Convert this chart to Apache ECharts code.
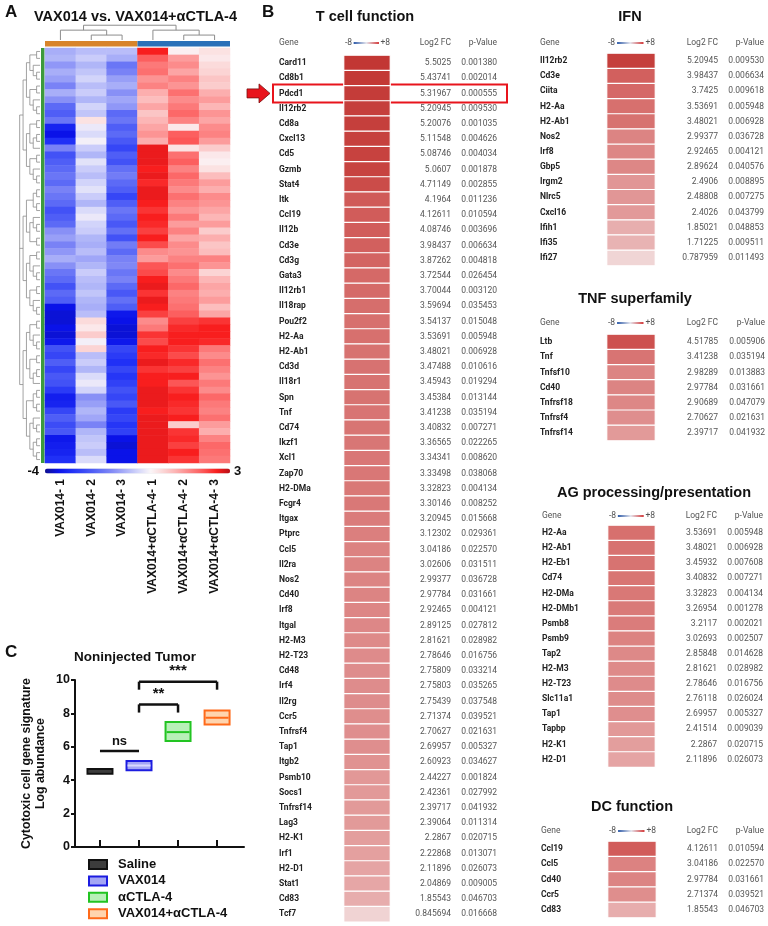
<!DOCTYPE html>
<html><head><meta charset="utf-8">
<script src="https://cdn.jsdelivr.net/npm/echarts@6/dist/echarts.min.js"></script>
<style>html,body{margin:0;padding:0;background:#fff}#c{width:768px;height:926px}</style>
</head><body><div id="c"></div>
<script>
// ================= DATA =================
// Panel A heatmap (z-scores), one array per sample column, rows top->bottom
const hmColumns = ['VAX014- 1','VAX014- 2','VAX014- 3','VAX014+αCTLA-4- 1','VAX014+αCTLA-4- 2','VAX014+αCTLA-4- 3'];
const hmVax1 = [-1.0,-0.9,-1.3,-1.0,-1.2,-1.6,-1.0,-1.4,-2.0,-2.2,-1.8,-3.2,-3.5,-3.0,-1.6,-2.4,-2.2,-2.0,-1.8,-2.0,-1.6,-1.8,-2.0,-2.4,-2.2,-2.0,-1.4,-1.2,-1.6,-1.3,-1.0,-1.4,-1.8,-2.0,-2.4,-2.0,-2.2,-3.5,-3.6,-3.6,-3.5,-3.6,-3.4,-2.4,-2.6,-2.2,-2.6,-2.3,-2.4,-2.8,-3.3,-3.2,-2.6,-2.2,-2.5,-2.3,-3.4,-3.3,-3.2,-3.0];
const hmVax2 = [-0.8,-0.6,-0.9,-0.7,-0.5,-0.8,-0.6,-0.9,-0.5,-0.7,0.3,-0.2,-0.4,-0.1,-0.6,-0.9,-0.3,-0.6,-0.8,-0.5,-0.3,-0.6,-0.9,-0.4,-0.2,-0.5,-0.6,-0.9,-1.0,-0.8,-1.1,-0.9,-0.6,-0.8,-0.9,-0.7,-0.9,-1.0,-0.8,0.4,0.2,0.6,-0.1,0.5,-0.8,-0.6,-0.9,-0.4,-0.2,-0.5,-1.4,-1.2,-0.9,-1.1,-1.6,-0.9,-0.7,-0.6,-0.8,-0.4];
const hmVax3 = [-0.8,-1.0,-1.8,-1.6,-1.2,-1.0,-1.4,-1.1,-1.3,-2.0,-1.8,-2.2,-2.0,-2.3,-2.6,-2.2,-2.4,-1.9,-1.7,-2.0,-2.2,-2.6,-2.2,-1.8,-2.0,-2.3,-1.9,-2.4,-1.7,-2.0,-1.6,-1.5,-1.8,-1.6,-2.0,-2.3,-1.9,-2.2,-3.4,-3.5,-3.6,-3.6,-3.4,-2.6,-2.8,-3.0,-2.6,-2.9,-2.7,-2.4,-2.6,-2.3,-2.8,-2.6,-2.9,-2.7,-3.5,-3.6,-3.5,-3.5];
const hmCombo1 = [2.5,1.9,1.6,1.7,1.3,1.5,1.0,0.8,1.1,0.7,0.9,1.1,1.3,1.0,2.6,2.6,2.6,2.5,2.6,2.4,2.6,2.6,2.5,2.3,2.5,2.4,2.2,2.5,2.1,1.4,1.2,2.0,2.1,2.5,2.6,2.3,2.6,2.5,2.2,1.4,1.6,2.3,2.1,2.5,2.4,2.6,2.3,2.5,2.5,2.6,2.6,2.6,2.5,2.6,2.6,2.6,2.6,2.6,2.6,2.6];
const hmCombo2 = [0.1,1.2,1.4,1.1,1.5,1.3,1.7,1.4,1.6,1.8,1.5,0.2,1.9,2.0,0.3,1.7,1.9,1.5,1.8,1.6,1.4,1.7,1.5,1.3,1.6,1.2,1.5,1.1,1.4,1.3,1.5,1.7,1.4,1.6,1.8,1.5,1.6,1.7,1.9,2.2,2.4,2.5,2.5,2.3,2.1,2.4,2.2,2.5,2.0,2.3,2.5,2.4,2.3,2.5,0.6,2.3,2.4,2.2,2.5,2.3];
const hmCombo3 = [0.3,0.2,0.4,0.5,0.7,0.6,1.0,1.2,0.9,1.3,1.1,1.4,1.5,1.2,0.6,0.2,0.1,0.3,0.8,1.2,1.0,1.4,1.3,1.1,0.9,1.2,0.6,1.0,0.7,0.8,1.5,1.3,0.5,0.9,1.1,1.0,1.2,0.8,1.1,2.3,2.5,2.5,2.4,1.6,1.4,1.7,1.5,1.3,1.6,1.4,1.8,1.6,1.5,1.7,1.2,1.0,1.5,1.8,1.7,1.6];
const hmScaleTicks = ['-4', '3'];
// dendrogram structures (leaf = row/column index)
const colTree = [[0,[1,2]],[3,[4,5]]];
const rowTree = [
 [[[[0,1],[2,[3,4]]],[[5,6],[7,[8,9]]]],
  [[[10,11],[[12,13],14]],[[15,16],[17,[18,19]]]]],
 [[[[20,21],[22,23]],[[24,[25,26]],[27,28]]],
  [[[29,30],[31,[32,33]]],[[34,35],[36,[37,38]]]]],
 [[[[39,40],[41,[42,43]]],[[44,45],[[46,47],48]]],
  [[[49,50],[51,52]],[[53,[54,55]],[[56,57],[58,59]]]]]
];

// Panel B tables
const tcGenes = ['Card11','Cd8b1','Pdcd1','Il12rb2','Cd8a','Cxcl13','Cd5','Gzmb','Stat4','Itk','Ccl19','Il12b','Cd3e','Cd3g','Gata3','Il12rb1','Il18rap','Pou2f2','H2-Aa','H2-Ab1','Cd3d','Il18r1','Spn','Tnf','Cd74','Ikzf1','Xcl1','Zap70','H2-DMa','Fcgr4','Itgax','Ptprc','Ccl5','Il2ra','Nos2','Cd40','Irf8','Itgal','H2-M3','H2-T23','Cd48','Irf4','Il2rg','Ccr5','Tnfrsf4','Tap1','Itgb2','Psmb10','Socs1','Tnfrsf14','Lag3','H2-K1','Irf1','H2-D1','Stat1','Cd83','Tcf7'];
const tcFc = [5.5025,5.43741,5.31967,5.20945,5.20076,5.11548,5.08746,5.0607,4.71149,4.1964,4.12611,4.08746,3.98437,3.87262,3.72544,3.70044,3.59694,3.54137,3.53691,3.48021,3.47488,3.45943,3.45384,3.41238,3.40832,3.36565,3.34341,3.33498,3.32823,3.30146,3.20945,3.12302,3.04186,3.02606,2.99377,2.97784,2.92465,2.89125,2.81621,2.78646,2.75809,2.75803,2.75439,2.71374,2.70627,2.69957,2.60923,2.44227,2.42361,2.39717,2.39064,2.2867,2.22868,2.11896,2.04869,1.85543,0.845694];
const tcP = [0.001380,0.002014,0.000555,0.009530,0.001035,0.004626,0.004034,0.001878,0.002855,0.011236,0.010594,0.003696,0.006634,0.004818,0.026454,0.003120,0.035453,0.015048,0.005948,0.006928,0.010616,0.019294,0.013144,0.035194,0.007271,0.022265,0.008620,0.038068,0.004134,0.008252,0.015668,0.029361,0.022570,0.031511,0.036728,0.031661,0.004121,0.027812,0.028982,0.016756,0.033214,0.035265,0.037548,0.039521,0.021631,0.005327,0.034627,0.001824,0.027992,0.041932,0.011314,0.020715,0.013071,0.026073,0.009005,0.046703,0.016668];

const ifnGenes = ['Il12rb2','Cd3e','Ciita','H2-Aa','H2-Ab1','Nos2','Irf8','Gbp5','Irgm2','Nlrc5','Cxcl16','Ifih1','Ifi35','Ifi27'];
const ifnFc = [5.20945,3.98437,3.7425,3.53691,3.48021,2.99377,2.92465,2.89624,2.4906,2.48808,2.4026,1.85021,1.71225,0.787959];
const ifnP = [0.009530,0.006634,0.009618,0.005948,0.006928,0.036728,0.004121,0.040576,0.008895,0.007275,0.043799,0.048853,0.009511,0.011493];

const tnfGenes = ['Ltb','Tnf','Tnfsf10','Cd40','Tnfrsf18','Tnfrsf4','Tnfrsf14'];
const tnfFc = [4.51785,3.41238,2.98289,2.97784,2.90689,2.70627,2.39717];
const tnfP = [0.005906,0.035194,0.013883,0.031661,0.047079,0.021631,0.041932];

const agGenes = ['H2-Aa','H2-Ab1','H2-Eb1','Cd74','H2-DMa','H2-DMb1','Psmb8','Psmb9','Tap2','H2-M3','H2-T23','Slc11a1','Tap1','Tapbp','H2-K1','H2-D1'];
const agFc = [3.53691,3.48021,3.45932,3.40832,3.32823,3.26954,3.2117,3.02693,2.85848,2.81621,2.78646,2.76118,2.69957,2.41514,2.2867,2.11896];
const agP = [0.005948,0.006928,0.007608,0.007271,0.004134,0.001278,0.002021,0.002507,0.014628,0.028982,0.016756,0.026024,0.005327,0.009039,0.020715,0.026073];

const dcGenes = ['Ccl19','Ccl5','Cd40','Ccr5','Cd83'];
const dcFc = [4.12611,3.04186,2.97784,2.71374,1.85543];
const dcP = [0.010594,0.022570,0.031661,0.039521,0.046703];

const tableTitles = ['T cell function','IFN','TNF superfamily','AG processing/presentation','DC function'];
const tableHeaders = ['Gene','Log2 FC','p-Value'];
const fcScaleTicks = ['-8','+8'];
const highlightGene = 'Pdcd1';

// Panel C
const cGroups = ['Saline','VAX014','αCTLA-4','VAX014+αCTLA-4'];
const cLow  = [4.38, 4.60, 6.35, 7.34];
const cHigh = [4.67, 5.15, 7.48, 8.18];
const cMean = [4.52, 4.88, 6.88, 7.74];
const cSigLabels = ['ns','**','***'];
const cSigFrom = [1, 2, 2];
const cSigTo = [2, 3, 4];
const cSigY = [5.75, 8.54, 9.9];
const cSigDrop = [5.75, 8.05, 9.42];

// ================= LAYOUT / STYLE =================
const FT = 'Liberation Sans, Arial, sans-serif';
const FR = 'Roboto, sans-serif';
const HM = {left:45, top:48, width:185, height:415};
const TL = [
 {genes:tcGenes, fc:tcFc, p:tcP, titleX:365, titleY:17, headerY:43, top:55.4, rowH:15.2, geneX:279, cellL:344, cellR:390, fcR:451, pR:497},
 {genes:ifnGenes, fc:ifnFc, p:ifnP, titleX:630, titleY:17, headerY:43, top:53.4, rowH:15.15, geneX:540, cellL:607, cellR:655, fcR:718, pR:764},
 {genes:tnfGenes, fc:tnfFc, p:tnfP, titleX:635, titleY:299, headerY:323, top:334.5, rowH:15.15, geneX:540, cellL:607, cellR:655, fcR:718, pR:765},
 {genes:agGenes, fc:agFc, p:agP, titleX:654, titleY:493, headerY:516, top:525.5, rowH:15.1, geneX:542, cellL:608, cellR:655, fcR:717, pR:763},
 {genes:dcGenes, fc:dcFc, p:dcP, titleX:632, titleY:807, headerY:831, top:841.5, rowH:15.2, geneX:541, cellL:608, cellR:656, fcR:718, pR:764}
];
const hmColors = ['#101090','#0a12e8','#2030f6','#3c4cf6','#5c6af6','#8088f6','#a8aef8','#d2d4fa','#fbf6f8','#fbd4d4','#fcaeae','#fc8282','#fc5656','#f81e1e','#b81018'];
const fcColors = ['#153f8a','#3a64b0','#7f9dd0','#c4d2ea','#f7f3f3','#e6a8a8','#d25f5d','#bd2a26','#a01818'];
const cFill   = ['#3c3c3c','#a4a6f4','#b8f0b8','#ffd4ae'];
const cStroke = ['#111111','#1c1ce0','#22c422','#ff6a1a'];
const cMid    = ['#3c3c3c','#d8d8ff','#22c422','#ff6a1a'];

// ================= BUILD =================
function dendro(node, segs) {
  if (typeof node === 'number') return {pos: node, h: 0};
  const kids = node.map(k => dendro(k, segs));
  const h = 1 + Math.max(...kids.map(k => k.h));
  const ps = kids.map(k => k.pos);
  const lo = Math.min(...ps), hi = Math.max(...ps);
  kids.forEach(k => segs.push([k.pos, k.h, k.pos, h]));
  segs.push([lo, h, hi, h]);
  return {pos: (lo + hi) / 2, h};
}
const colSegs = []; const colRoot = dendro(colTree, colSegs);
const rowSegs = []; const rowRoot = dendro(rowTree, rowSegs);

const hmCols = [hmVax1, hmVax2, hmVax3, hmCombo1, hmCombo2, hmCombo3];
const hmData = [];
hmCols.forEach((col, c) => col.forEach((v, r) => hmData.push([c, r, v])));
const rowNames = hmVax1.map((_, i) => String(i));

function txt(x, y, text, size, weight, align, color, font, vAlign) {
  return {type:'text', x, y, silent:true,
    style:{text, fontSize:size, fontWeight:weight, fontFamily:font, fill:color,
      align, textAlign:align, verticalAlign:vAlign||'middle', textVerticalAlign:vAlign||'middle'}};
}

const grid = [
  {left:HM.left, top:HM.top, width:HM.width, height:HM.height},
  {left:HM.left, top:24, width:HM.width, height:16},
  {left:19, top:HM.top, width:21, height:HM.height},
  {left:75, top:680, width:169, height:167}
];
const xAxis = [
  {gridIndex:0, type:'category', data:hmColumns, axisLine:{show:false}, axisTick:{show:false},
   axisLabel:{rotate:90, interval:0, margin:16, fontSize:12, fontWeight:'bold', color:'#111', fontFamily:FT}},
  {gridIndex:1, type:'value', min:-0.5, max:5.5, show:false},
  {gridIndex:2, type:'value', min:0, max:rowRoot.h + 0.2, inverse:true, show:false},
  {gridIndex:3, type:'value', min:0.36, max:4.69, splitLine:{show:false},
   axisLine:{lineStyle:{color:'#111', width:2}},
   axisTick:{show:true, customValues:[1,2,3,4], inside:true, length:7, lineStyle:{width:2, color:'#111'}},
   axisLabel:{show:false}}
];
const yAxis = [
  {gridIndex:0, type:'category', data:rowNames, inverse:true, show:false},
  {gridIndex:1, type:'value', min:0, max:colRoot.h + 0.25, show:false},
  {gridIndex:2, type:'value', min:-0.5, max:rowNames.length - 0.5, inverse:true, show:false},
  {gridIndex:3, type:'value', min:0, max:10, interval:2, splitLine:{show:false},
   axisLine:{show:true, lineStyle:{color:'#111', width:2}},
   axisTick:{show:true, length:4, lineStyle:{width:2, color:'#111'}},
   axisLabel:{fontSize:12.5, fontWeight:'bold', color:'#111', fontFamily:FT, margin:5},
   name:'Cytotoxic cell gene signature\nLog abundance', nameLocation:'middle', nameGap:27,
   nameTextStyle:{fontSize:12.3, fontWeight:'bold', color:'#111', fontFamily:FT, lineHeight:14.5}}
];
const series = [
  {type:'heatmap', xAxisIndex:0, yAxisIndex:0, data:hmData, progressive:0, emphasis:{disabled:true}},
  {type:'custom', xAxisIndex:1, yAxisIndex:1, data:colSegs, silent:true,
   renderItem:(p, api) => { const a = api.coord([api.value(0), api.value(1)]), b = api.coord([api.value(2), api.value(3)]);
     return {type:'line', shape:{x1:a[0], y1:a[1], x2:b[0], y2:b[1]}, style:{stroke:'#8c8c8c', lineWidth:1}}; }},
  {type:'custom', xAxisIndex:2, yAxisIndex:2, data:rowSegs, silent:true,
   renderItem:(p, api) => { const a = api.coord([api.value(1), api.value(0)]), b = api.coord([api.value(3), api.value(2)]);
     return {type:'line', shape:{x1:a[0], y1:a[1], x2:b[0], y2:b[1]}, style:{stroke:'#8c8c8c', lineWidth:0.8}}; }}
];
cGroups.forEach((g, i) => {
  series.push({type:'custom', name:g, xAxisIndex:3, yAxisIndex:3, silent:true,
    itemStyle:{color:cFill[i], borderColor:cStroke[i], borderWidth:2},
    encode:{x:0, y:[1,2]},
    data:[[i + 1, cLow[i], cHigh[i], cMean[i]]],
    renderItem:(p, api) => {
      const x = api.value(0), hw = 0.32;
      const p1 = api.coord([x - hw, api.value(2)]), p2 = api.coord([x + hw, api.value(1)]);
      const m1 = api.coord([x - hw, api.value(3)]), m2 = api.coord([x + hw, api.value(3)]);
      return {type:'group', children:[
        {type:'rect', shape:{x:p1[0], y:p1[1], width:p2[0]-p1[0], height:p2[1]-p1[1]}, style:{fill:cFill[i], stroke:cStroke[i], lineWidth:2}},
        {type:'line', shape:{x1:m1[0]+1, y1:m1[1], x2:m2[0]-1, y2:m2[1]}, style:{stroke:cMid[i], lineWidth:2}}
      ]};
    }});
});
series.push({type:'custom', xAxisIndex:3, yAxisIndex:3, silent:true, clip:false,
  data:cSigLabels.map((_, i) => [cSigFrom[i], cSigTo[i], cSigY[i], cSigDrop[i]]),
  encode:{x:[0,1], y:[2,3]},
  renderItem:(p, api) => {
    const i = p.dataIndex;
    const a = api.coord([api.value(0), api.value(2)]), b = api.coord([api.value(1), api.value(2)]);
    const ad = api.coord([api.value(0), api.value(3)]), bd = api.coord([api.value(1), api.value(3)]);
    const ls = {stroke:'#111', lineWidth:2.5};
    return {type:'group', children:[
      {type:'line', shape:{x1:a[0], y1:a[1], x2:b[0], y2:b[1]}, style:ls},
      {type:'line', shape:{x1:ad[0], y1:ad[1], x2:a[0], y2:a[1]}, style:ls},
      {type:'line', shape:{x1:bd[0], y1:bd[1], x2:b[0], y2:b[1]}, style:ls},
      {type:'text', x:(a[0]+b[0])/2, y:a[1] - 3, style:{text:cSigLabels[i], fontSize:cSigLabels[i]==='ns'?13:15, fontWeight:'bold', fontFamily:FT, fill:'#111', align:'center', verticalAlign:'bottom'}}
    ]};
  }});

const tableSeriesIdx = [];
const graphics = [];
TL.forEach((t, k) => {
  const gi = grid.length;
  grid.push({left:t.cellL, top:t.top, width:t.cellR - t.cellL, height:t.rowH * t.genes.length});
  xAxis.push({gridIndex:gi, type:'category', data:['fc'], show:false});
  const yBase = {gridIndex:gi, type:'category', data:t.genes, inverse:true, axisLine:{show:false}, axisTick:{show:false}};
  yAxis.push(Object.assign({}, yBase, {position:'left', axisLabel:{interval:0, align:'left', margin:t.cellL - t.geneX, fontSize:8.5, fontWeight:'bold', color:'#222', fontFamily:FR}}));
  yAxis.push(Object.assign({}, yBase, {position:'right', axisLabel:{interval:0, align:'right', margin:t.fcR - t.cellR, fontSize:8.5, color:'#555', fontFamily:FR, formatter:(v, idx) => String(t.fc[idx])}}));
  yAxis.push(Object.assign({}, yBase, {position:'right', axisLabel:{interval:0, align:'right', margin:t.pR - t.cellR, fontSize:8.5, color:'#555', fontFamily:FR, formatter:(v, idx) => t.p[idx].toFixed(6)}}));
  tableSeriesIdx.push(series.length);
  series.push({type:'heatmap', xAxisIndex:gi, yAxisIndex:yAxis.length - 3, data:t.fc.map((v, i) => [0, i, v]),
    itemStyle:{borderColor:'#fff', borderWidth:1.2}, emphasis:{disabled:true}});
  graphics.push(txt(t.titleX, t.titleY, tableTitles[k], 14.5, 'bold', 'center', '#111', FT));
  graphics.push(txt(t.geneX, t.headerY, tableHeaders[0], 8.5, 'normal', 'left', '#555', FR));
  graphics.push(txt(t.fcR, t.headerY, tableHeaders[1], 8.5, 'normal', 'right', '#555', FR));
  graphics.push(txt(t.pR, t.headerY, tableHeaders[2], 8.5, 'normal', 'right', '#555', FR));
  const cw = t.cellR - t.cellL;
  graphics.push(txt(t.cellL + 1, t.headerY, fcScaleTicks[0], 8.5, 'normal', 'left', '#555', FR));
  graphics.push(txt(t.cellR, t.headerY, fcScaleTicks[1], 8.5, 'normal', 'right', '#555', FR));
  graphics.push({type:'rect', silent:true, shape:{x:t.cellL + cw*0.21, y:t.headerY - 1, width:cw*0.55, height:2},
    style:{fill:{type:'linear', x:0, y:0, x2:1, y2:0, colorStops:[{offset:0, color:'#2d5aa8'},{offset:0.5, color:'#e6e6ee'},{offset:1, color:'#d33a3a'}]}}});
  const hi = t.genes.indexOf(highlightGene);
  if (hi >= 0) {
    const cy = t.top + (hi + 0.5) * t.rowH, bx = t.geneX - 6;
    graphics.push({type:'rect', silent:true, shape:{x:bx, y:cy - 9, width:t.pR + 10 - bx, height:18}, style:{fill:'none', stroke:'#e8141c', lineWidth:2}});
    const tip = bx - 3;
    graphics.push({type:'polygon', silent:true, shape:{points:[[tip-23, cy-4.5],[tip-11, cy-4.5],[tip-11, cy-9.5],[tip, cy],[tip-11, cy+9.5],[tip-11, cy+4.5],[tip-23, cy+4.5]]},
      style:{fill:'#e8141c', stroke:'#7a1010', lineWidth:0.8}});
  }
});

// Panel decorations
const colW = HM.width / hmColumns.length;
graphics.push(
  txt(5, 12, 'A', 17, 'bold', 'left', '#111', FT),
  txt(262, 12, 'B', 17, 'bold', 'left', '#111', FT),
  txt(5, 652, 'C', 17, 'bold', 'left', '#111', FT),
  txt(HM.left + HM.width / 2 - 2, 17, 'VAX014 vs. VAX014+αCTLA-4', 14.5, 'bold', 'center', '#111', FT),
  txt(135, 657, 'Noninjected Tumor', 13.5, 'bold', 'center', '#111', FT),
  {type:'rect', silent:true, shape:{x:HM.left, y:HM.top - 7, width:colW*3, height:5.5}, style:{fill:'#d8842a'}},
  {type:'rect', silent:true, shape:{x:HM.left + colW*3, y:HM.top - 7, width:colW*3, height:5.5}, style:{fill:'#2a70b8'}},
  {type:'rect', silent:true, shape:{x:HM.left - 4, y:HM.top, width:3.5, height:HM.height}, style:{fill:'#3c9a3c'}},
  txt(HM.left - 6, HM.top + HM.height + 8, hmScaleTicks[0], 13, 'bold', 'right', '#111', FT),
  txt(HM.left + HM.width + 4, HM.top + HM.height + 8, hmScaleTicks[1], 13, 'bold', 'left', '#111', FT)
);

const option = {
  animation:false,
  backgroundColor:'#fff',
  grid, xAxis, yAxis, series,
  visualMap:[
    {type:'continuous', seriesIndex:0, min:-4, max:3, orient:'horizontal', left:HM.left, top:HM.top + HM.height + 5.5,
     itemWidth:5, itemHeight:HM.width, calculable:false, padding:0, inRange:{color:hmColors}, textStyle:{fontSize:0}},
    {type:'continuous', seriesIndex:tableSeriesIdx, min:-8, max:8, show:false, inRange:{color:fcColors}}
  ],
  legend:{orient:'vertical', left:88, top:858, height:68, padding:0, itemWidth:18, itemHeight:9, itemGap:3.4, icon:'rect',
    textStyle:{fontSize:13, fontWeight:'bold', color:'#111', fontFamily:FT, padding:[0,0,0,6]},
    data:cGroups.map((g, i) => ({name:g, itemStyle:{color:cFill[i], borderColor:cStroke[i], borderWidth:2}})),
    selectedMode:false},
  graphic:graphics
};
const chart = echarts.init(document.getElementById('c'), null, {renderer:'canvas'});
chart.setOption(option);
</script></body></html>
